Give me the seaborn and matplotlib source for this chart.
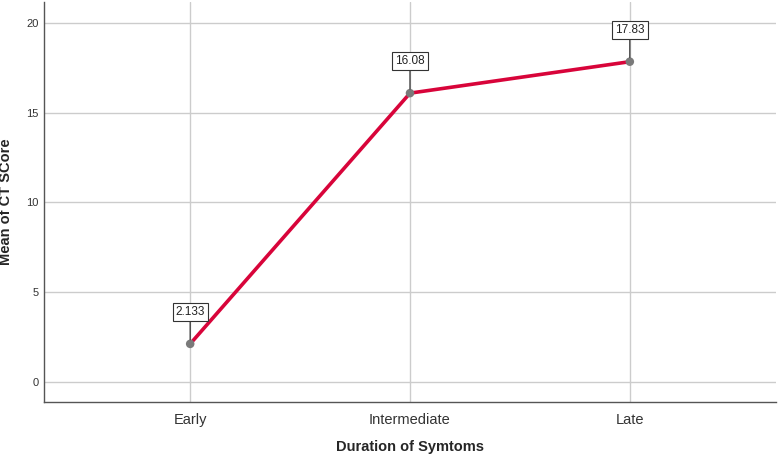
import matplotlib
matplotlib.use("Agg")
import matplotlib.pyplot as plt
import seaborn as sns
import pandas as pd

# values
durations = ["Early", "Intermediate", "Late"]
mean_ct_score = [2.133, 16.08, 17.83]
point_labels = ["2.133", "16.08", "17.83"]
y_ticks = [0, 5, 10, 15, 20]

df = pd.DataFrame({"Duration of Symtoms": durations, "Mean of CT SCore": mean_ct_score})

sns.set_style("white")
plt.rcParams["font.family"] = ["Liberation Sans", "DejaVu Sans"]

fig = plt.figure(figsize=(7.78, 4.57), dpi=100)
ax = fig.add_axes([44 / 778, 1 - 402 / 457, 732 / 778, 400 / 457])

sns.lineplot(
    data=df, x="Duration of Symtoms", y="Mean of CT SCore", ax=ax,
    color="#d8043a", linewidth=2.6, sort=False, zorder=3,
)
# grey point markers on top of the line
sns.scatterplot(
    data=df, x="Duration of Symtoms", y="Mean of CT SCore", ax=ax,
    color="#7a7a7a", s=38, edgecolor="none", zorder=4,
)

for i, (v, lab) in enumerate(zip(mean_ct_score, point_labels)):
    ax.annotate(
        lab, xy=(i, v), xytext=(0, 23), textcoords="offset points",
        ha="center", va="center", fontsize=8.5, color="#222222",
        bbox=dict(boxstyle="square,pad=0.25", fc="white", ec="#333333", lw=0.8),
        arrowprops=dict(arrowstyle="-", color="#333333", lw=0.9, shrinkA=0, shrinkB=3),
        zorder=5,
    )

ax.set_xlim(-0.665, 2.665)
ax.set_ylim(-1.1, 21.15)
ax.set_yticks(y_ticks)
ax.grid(True, color="#cccccc", linewidth=1.0)
ax.set_axisbelow(True)

ax.tick_params(axis="y", length=0, labelsize=8, labelcolor="#333333", pad=4)
ax.tick_params(axis="x", length=0, labelsize=10.5, labelcolor="#333333", pad=8)

for side in ["top", "right"]:
    ax.spines[side].set_visible(False)
for side in ["left", "bottom"]:
    ax.spines[side].set_color("#555555")
    ax.spines[side].set_linewidth(1.0)

ax.set_xlabel("Duration of Symtoms", fontsize=10.5, fontweight="bold")
ax.set_ylabel("Mean of CT SCore", fontsize=10.5, fontweight="bold")
ax.xaxis.set_label_coords(0.5, -38 / 400)
ax.yaxis.set_label_coords(-31 / 732, 0.5)

fig.savefig("out.png", dpi=100)
